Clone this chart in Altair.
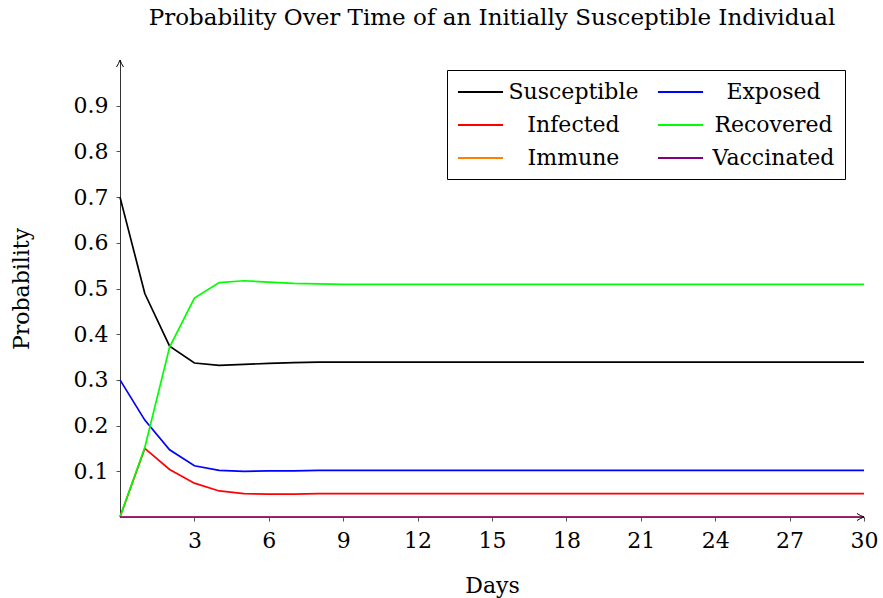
import altair as alt
import pandas as pd

days = list(range(31))
series_names = ["Susceptible", "Exposed", "Infected", "Recovered", "Immune", "Vaccinated"]
series_colors = ["#000000", "#0000ff", "#ff0000", "#00ff00", "#ff8000", "#800080"]
# legend fills column by column: this order gives rows S/E, I/R, Im/V
legend_order = ["Susceptible", "Infected", "Immune", "Exposed", "Recovered", "Vaccinated"]

susceptible = [0.700, 0.489, 0.374, 0.337, 0.332, 0.334, 0.336, 0.338, 0.339, 0.339,
               0.339, 0.339, 0.339, 0.339, 0.339, 0.339, 0.339, 0.339, 0.339, 0.339,
               0.339, 0.339, 0.339, 0.339, 0.339, 0.339, 0.339, 0.339, 0.339, 0.339, 0.339]
exposed = [0.300, 0.212, 0.147, 0.112, 0.102, 0.100, 0.101, 0.101, 0.102, 0.102,
           0.102, 0.102, 0.102, 0.102, 0.102, 0.102, 0.102, 0.102, 0.102, 0.102,
           0.102, 0.102, 0.102, 0.102, 0.102, 0.102, 0.102, 0.102, 0.102, 0.102, 0.102]
infected = [0.000, 0.150, 0.104, 0.074, 0.057, 0.051, 0.050, 0.050, 0.051, 0.051,
            0.051, 0.051, 0.051, 0.051, 0.051, 0.051, 0.051, 0.051, 0.051, 0.051,
            0.051, 0.051, 0.051, 0.051, 0.051, 0.051, 0.051, 0.051, 0.051, 0.051, 0.051]
recovered = [0.000, 0.152, 0.372, 0.479, 0.513, 0.517, 0.514, 0.511, 0.510, 0.509,
             0.509, 0.509, 0.509, 0.509, 0.509, 0.509, 0.509, 0.509, 0.509, 0.509,
             0.509, 0.509, 0.509, 0.509, 0.509, 0.509, 0.509, 0.509, 0.509, 0.509, 0.509]
immune = [0.0, 0.0, 0.0, 0.0, 0.0, 0.0, 0.0, 0.0, 0.0, 0.0,
          0.0, 0.0, 0.0, 0.0, 0.0, 0.0, 0.0, 0.0, 0.0, 0.0,
          0.0, 0.0, 0.0, 0.0, 0.0, 0.0, 0.0, 0.0, 0.0, 0.0, 0.0]
vaccinated = [0.0, 0.0, 0.0, 0.0, 0.0, 0.0, 0.0, 0.0, 0.0, 0.0,
              0.0, 0.0, 0.0, 0.0, 0.0, 0.0, 0.0, 0.0, 0.0, 0.0,
              0.0, 0.0, 0.0, 0.0, 0.0, 0.0, 0.0, 0.0, 0.0, 0.0, 0.0]

x_ticks = [3, 6, 9, 12, 15, 18, 21, 24, 27, 30]
y_ticks = [0.1, 0.2, 0.3, 0.4, 0.5, 0.6, 0.7, 0.8, 0.9]

FONT = "DejaVu Serif"
FS = 22

all_values = [susceptible, exposed, infected, recovered, immune, vaccinated]
color_map = dict(zip(series_names, series_colors))
rows = []
for i, (name, vals) in enumerate(zip(series_names, all_values)):
    for d, v in zip(days, vals):
        rows.append({"Days": d, "Probability": v, "Series": name, "ord": i})
df = pd.DataFrame(rows)

lines = alt.Chart(df).mark_line(strokeWidth=1.7).encode(
    x=alt.X("Days:Q",
            scale=alt.Scale(domain=[0, 30], nice=False, zero=False),
            axis=alt.Axis(values=x_ticks, format="d", title="Days", grid=False,
                          labelFont=FONT, labelFontSize=FS, titleFont=FONT,
                          titleFontSize=FS, titleFontWeight="normal",
                          tickSize=4, labelPadding=9, titlePadding=24,
                          labelFlush=False, labelOverlap=False,
                          domainColor="#333333", tickColor="#555555",
                          labelColor="black", titleColor="black")),
    y=alt.Y("Probability:Q",
            scale=alt.Scale(domain=[0, 1], nice=False),
            axis=alt.Axis(values=y_ticks, format=".1f", title="Probability", grid=False,
                          labelFont=FONT, labelFontSize=FS, titleFont=FONT,
                          titleFontSize=FS, titleFontWeight="normal",
                          tickSize=4, labelPadding=8, titlePadding=40,
                          labelFlush=False,
                          domainColor="#333333", tickColor="#555555",
                          labelColor="black", titleColor="black")),
    color=alt.Color("Series:N",
                    scale=alt.Scale(domain=legend_order,
                                    range=[color_map[n] for n in legend_order]),
                    legend=alt.Legend(orient="none", legendX=327, legendY=10,
                                      columns=2, title=None,
                                      symbolType="M -2.05 0 L 2.05 0",
                                      symbolSize=484, symbolStrokeWidth=2,
                                      symbolOffset=11.5,
                                      labelFont=FONT, labelFontSize=FS,
                                      labelColor="black", labelAlign="center",
                                      labelOffset=81,
                                      strokeColor="black", fillColor="white",
                                      padding=10, columnPadding=14, rowPadding=10)),
    order=alt.Order("ord:Q"),
)

arrow_data = pd.DataFrame({"k": [0]})
y_arrow = alt.Chart(arrow_data).mark_point(
    shape="M -0.5 1 Q -0.15 0.45 0 0 Q 0.15 0.45 0.5 1",
    filled=False, stroke="black", strokeWidth=1, size=196, opacity=1
).encode(x=alt.value(0), y=alt.value(0))
x_arrow = alt.Chart(arrow_data).mark_point(
    shape="M -1 -0.5 Q -0.45 -0.15 0 0 Q -0.45 0.15 -1 0.5",
    filled=False, stroke="black", strokeWidth=1, size=196, opacity=1
).encode(x=alt.value(744), y=alt.value(457))

chart = alt.layer(lines, y_arrow, x_arrow).properties(
    width=744, height=457,
    title=alt.TitleParams("Probability Over Time of an Initially Susceptible Individual",
                          font=FONT, fontSize=23, fontWeight="normal", color="black",
                          anchor="middle", offset=28),
    autosize=alt.AutoSizeParams(type="none"),
    padding={"left": 120, "top": 60, "right": 19, "bottom": 81},
).configure_view(stroke=None)

chart.save("out.html", embed_options={"renderer": "svg", "actions": False})
